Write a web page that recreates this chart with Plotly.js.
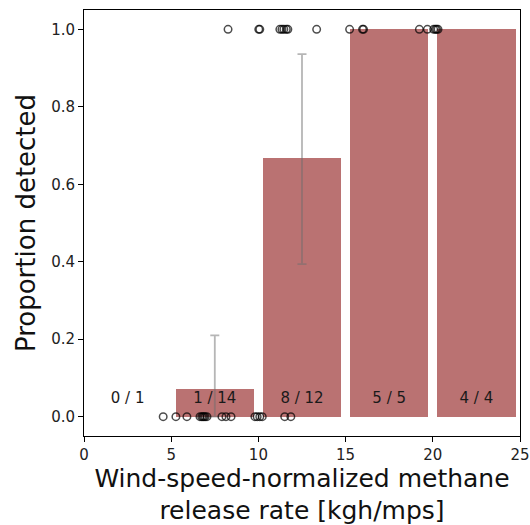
<!DOCTYPE html>
<html>
<head>
<meta charset="utf-8">
<script src="https://cdn.plot.ly/plotly-3.0.1.min.js"></script>
<style>html,body{margin:0;padding:0;background:#fff;}#chart{width:530px;height:525px;}</style>
</head>
<body>
<div id="chart"></div>
<script>
// Bin centers (kgh/mps) and detection counts
const binCenters = [2.5, 7.5, 12.5, 17.5, 22.5];
const detected = [0, 1, 8, 5, 4];
const totals = [1, 14, 12, 5, 4];
const binLabels = ["0 / 1", "1 / 14", "8 / 12", "5 / 5", "4 / 4"];

// Confidence intervals, only for bins 1 and 2
const ciX = [7.5, 12.5];
const ciLow = [0.0, 0.394];
const ciHigh = [0.21, 0.936];

// Individual releases: x = normalized rate, y = detected (0/1)
const missX = [4.54, 5.27, 5.90, 6.65, 6.75, 6.82, 6.88, 6.95, 7.05, 7.91, 8.14, 8.43, 9.80, 9.93, 10.08, 10.22, 11.51, 11.86];
const hitX = [8.26, 10.02, 10.08, 11.23, 11.35, 11.46, 11.60, 11.69, 13.34, 15.23, 15.97, 16.03, 19.23, 19.69, 20.05, 20.15, 20.22, 20.30];

const props = detected.map((d, i) => d / totals[i]);
const ciY = ciX.map(x => props[binCenters.indexOf(x)]);

const barTrace = {
  type: 'bar', x: binCenters, y: props, width: 4.5,
  marker: {color: 'rgb(186,114,114)', line: {width: 0}},
  hoverinfo: 'skip', showlegend: false
};
const errTrace = {
  type: 'scatter', mode: 'markers', x: ciX, y: ciY,
  marker: {size: 1, color: 'rgba(0,0,0,0)'},
  error_y: {
    type: 'data', symmetric: false,
    array: ciHigh.map((h, i) => h - ciY[i]),
    arrayminus: ciLow.map((l, i) => ciY[i] - l),
    color: 'rgba(110,110,110,0.5)', thickness: 1.8, width: 4.5
  },
  showlegend: false, hoverinfo: 'skip'
};
const textTrace = {
  type: 'scatter', mode: 'text', x: binCenters, y: binCenters.map(() => 0.044),
  text: binLabels, textposition: 'middle center',
  textfont: {family: 'DejaVu Sans', size: 15, color: '#1a1a1a'},
  showlegend: false, hoverinfo: 'skip'
};
const ptsMarker = {size: 7.5, color: 'rgba(0,0,0,0)', line: {color: 'rgba(0,0,0,0.7)', width: 1.5}};
const missTrace = {
  type: 'scatter', mode: 'markers', x: missX, y: missX.map(() => 0),
  marker: ptsMarker, showlegend: false
};
const hitTrace = {
  type: 'scatter', mode: 'markers', x: hitX, y: hitX.map(() => 1),
  marker: ptsMarker, showlegend: false
};

const axisCommon = {
  showline: true, mirror: true, linecolor: '#000', linewidth: 1,
  ticks: 'outside', ticklen: 5, tickwidth: 1, tickcolor: '#000',
  showgrid: false, zeroline: false,
  tickfont: {family: 'DejaVu Sans', size: 15, color: '#222'}
};

const layout = {
  width: 530, height: 525,
  margin: {l: 84, r: 10, t: 10, b: 89, pad: 0},
  paper_bgcolor: '#fff', plot_bgcolor: '#fff',
  bargap: 0,
  xaxis: Object.assign({}, axisCommon, {
    range: [0, 25], tickvals: [0, 5, 10, 15, 20, 25], ticktext: ['0', '5', '10', '15', '20', '25'],
    title: {text: 'Wind-speed-normalized methane<br>release rate [kgh/mps]', font: {family: 'DejaVu Sans', size: 25, color: '#111'}, standoff: 10}
  }),
  yaxis: Object.assign({}, axisCommon, {
    range: [-0.05, 1.05], tickvals: [0, 0.2, 0.4, 0.6, 0.8, 1.0], ticktext: ['0.0', '0.2', '0.4', '0.6', '0.8', '1.0'],
    title: {text: 'Proportion detected', font: {family: 'DejaVu Sans', size: 26, color: '#111'}, standoff: 8}
  }),
  font: {family: 'DejaVu Sans'}
};

Plotly.newPlot('chart', [barTrace, errTrace, textTrace, missTrace, hitTrace], layout, {displayModeBar: false, staticPlot: true});
</script>
</body>
</html>
